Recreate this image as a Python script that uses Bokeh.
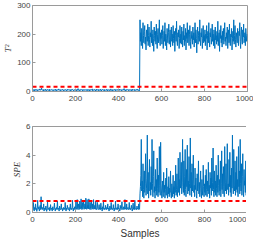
from bokeh.plotting import figure
from bokeh.layouts import column
from bokeh.models import Range1d, FixedTicker
from bokeh.embed import file_html
from bokeh.resources import INLINE

# ---- data (every 2nd sample) ----
t2_pre = [5,7,4,6,1,5,8,4,6,5,7,2,5,6,4,7,5,9,4,6,5,12,6,4,5,
          7,1,5,6,4,8,5,2,6,5,7,4,6,5,1,8,5,4,6,7,4,5,6,2,5,
          7,4,6,5,8,1,5,6,4,7,5,9,4,6,5,2,7,5,4,6,8,5,1,6,5,
          4,7,5,6,2,5,8,4,6,5,7,4,5,6,1,7,5,4,8,6,5,2,6,5,7,
          4,5,6,1,7,5,10,4,6,5,2,7,5,4,6,8,5,1,6,5,7,4,5,6,4,
          7,5,2,6,8,4,5,6,1,7,5,4,6,5,9,2,5,6,4,7,5,6,1,5,8,
          4,6,5,7,2,5,6,4,8,5,1,6,5,7,4,5,6,2,7,5,4,6,5,8,1,
          5,6,4,7,5,2,6,9,4,5,6,1,7,5,4,6,5,8,2,5,6,4,7,5,6,
          1,5,8,4,6,5,7,2,5,6,4,7,5,10,4,6,5,1,7,5,4,6,8,5,2,
          6,5,7,4,5,6,1,8,5,4,6,5,7,2,5,6,4,7,5,8,4,6,5,1,6]
t2_post = [250,175,205,160,220,185,150,240,195,170,210,230,165,190,145,215,200,175,235,160,195,225,180,155,205,
           190,245,170,200,160,215,185,140,225,195,175,210,165,235,180,150,200,220,170,190,250,175,160,205,185,
           215,165,195,230,150,180,210,175,240,160,200,185,145,220,190,170,205,235,165,180,215,155,195,225,175,
           200,160,230,185,170,210,140,195,220,175,245,180,160,205,190,215,150,185,230,170,200,165,225,190,155,
           210,180,235,160,195,175,220,145,205,185,240,170,190,215,160,200,230,175,150,210,185,195,165,225,180,
           205,155,190,240,170,215,185,135,200,225,165,195,210,175,250,180,160,205,190,220,150,185,230,170,195,
           175,215,160,200,185,230,145,195,210,170,240,180,155,205,190,220,165,185,235,175,200,160,215,190,150,
           225,180,195,165,210,175,245,160,190,205,140,215,185,230,170,195,155,210,180,220,165,200,240,175,190,
           160,205,185,225,150,195,215,170,235,180,160,200,190,220,145,185,210,175,250,165,195,230,180,155,205,
           190,170,220,185,160,210,195,240,175,150,200,225,180,165,215,190,235,170,185,205,160,220,195,175,200]
t2_limit = 17

spe_pre = [0.3,0.2,0.7,0.25,0.1,0.35,0.22,0.6,0.2,0.28,0.08,0.3,0.85,0.22,0.25,0.4,0.1,0.3,0.5,0.2,1.1,0.28,0.22,0.35,0.2,
           0.25,0.6,0.1,0.3,0.22,0.2,0.45,0.25,0.08,0.3,0.75,0.2,0.28,0.22,0.35,0.1,0.25,0.55,0.2,0.3,0.22,0.1,0.4,0.25,0.2,
           0.3,0.65,0.22,0.1,0.28,0.2,0.35,0.25,0.8,0.2,0.3,0.22,0.1,0.45,0.25,0.2,0.3,0.6,0.22,0.28,0.1,0.25,0.35,0.2,0.3,
           0.22,0.7,0.25,0.1,0.3,0.2,0.5,0.28,0.22,0.2,0.35,0.1,0.25,0.6,0.22,0.3,0.2,0.28,0.85,0.25,0.1,0.3,0.22,0.4,0.2,
           0.28,0.75,0.22,0.3,0.9,0.25,0.2,0.6,0.3,0.22,0.8,0.28,0.25,0.95,0.3,0.2,0.7,0.25,0.35,0.85,0.22,0.3,0.6,0.25,1.0,
           0.3,0.22,0.9,0.28,0.5,0.25,0.95,0.3,0.22,0.7,0.28,0.2,0.85,0.3,0.25,0.6,0.22,0.9,0.3,0.25,0.5,0.22,0.8,0.28,0.2,
           0.35,0.7,0.25,0.2,0.3,0.55,0.22,0.28,0.2,0.65,0.25,0.3,0.1,0.4,0.22,0.8,0.25,0.2,0.3,0.22,0.5,0.28,0.2,0.35,0.25,
           0.6,0.22,0.3,0.1,0.25,0.45,0.2,0.28,0.7,0.22,0.3,0.2,0.25,0.55,0.22,0.1,0.3,0.25,0.8,0.2,0.28,0.22,0.35,0.2,0.6,
           0.25,0.3,0.22,0.1,0.5,0.28,0.2,0.3,0.75,0.22,0.25,0.2,0.4,0.28,0.22,0.9,0.25,0.3,0.2,0.6,0.22,0.28,0.35,0.2,0.25,
           0.7,0.22,0.3,0.2,0.28,0.5,0.25,0.1,0.3,0.65,0.22,0.25,0.2,0.85,0.3,0.22,0.28,0.2,0.45,0.25,0.3,0.2,0.6,0.28,0.22]
spe_post = [1.3,1.8,2.6,5.1,1.5,2.2,1.1,3.4,1.6,1.0,2.9,1.4,2.0,4.1,1.2,1.7,2.4,5.4,1.3,2.8,1.0,1.9,3.7,1.5,2.1,
            1.2,3.2,1.6,5.1,2.0,1.1,2.5,4.3,1.4,1.8,1.0,3.0,1.5,2.3,1.2,3.8,1.7,1.1,2.6,1.4,4.6,1.9,1.2,4.9,2.0,
            1.3,1.0,2.2,1.5,1.1,2.8,1.4,1.9,1.0,1.6,2.4,1.2,3.1,1.5,1.0,1.8,1.3,2.5,1.1,1.7,1.4,2.9,1.2,1.0,2.0,
            1.5,1.1,2.6,1.3,1.8,1.0,2.2,1.4,3.3,1.2,1.6,2.7,1.1,1.9,3.8,1.4,2.3,1.2,4.2,1.7,2.0,3.5,1.3,1.8,5.1,
            2.1,1.4,3.6,1.2,2.5,4.4,1.6,1.1,3.0,1.8,4.7,1.3,2.2,1.5,3.9,2.0,1.2,5.2,1.7,2.8,1.1,3.4,1.5,2.3,4.0,
            1.4,1.9,1.1,3.1,1.6,2.4,1.2,1.0,2.7,1.5,1.8,3.6,1.3,2.1,1.1,1.7,2.9,1.4,1.0,2.3,1.5,1.2,3.3,1.8,1.1,
            2.0,1.4,2.6,1.2,3.0,1.6,1.1,2.2,1.5,3.5,1.3,1.9,1.0,2.8,1.7,2.4,1.2,3.8,1.5,2.1,4.5,1.6,1.1,2.9,1.4,
            2.2,1.2,3.3,1.7,1.1,2.6,1.4,4.0,1.9,1.2,2.3,1.5,3.6,1.1,2.0,4.3,1.6,2.7,1.3,3.2,1.8,1.1,4.6,2.1,1.5,
            3.4,1.3,2.4,4.8,1.6,2.0,1.2,3.7,1.8,4.2,1.4,2.6,1.1,3.1,1.7,5.4,2.2,1.3,4.4,1.9,1.5,3.6,1.2,2.8,1.6,
            3.9,1.4,2.3,1.1,4.6,1.8,2.9,1.3,5.1,2.0,1.5,3.4,1.2,2.5,4.1,1.6,1.1,3.0,1.9,2.2,1.4,3.6,1.2,2.7,1.8]
spe_limit = 0.8

x_ticks = [0, 200, 400, 600, 800, 1000]
t2_ticks = [0, 100, 200, 300]
spe_ticks = [0, 2, 4, 6]

step = 2
t2_x = [step * i for i in range(len(t2_pre))] + [500 + step * i for i in range(len(t2_post))]
spe_x = [step * i for i in range(len(spe_pre))] + [500 + step * i for i in range(len(spe_post))]

BLUE = "#0072BD"
RED = "#FF0000"
AXC = "#9a9a9a"
TXT = "#444444"


def make_fig(ymax, yticks, ylabel, xlabel, top_border, bottom_border):
    p = figure(output_backend="svg", toolbar_location=None,
               frame_width=215, frame_height=86,
               min_border_left=25, min_border_right=6,
               min_border_top=top_border, min_border_bottom=bottom_border,
               x_range=Range1d(0, 1000), y_range=Range1d(0, ymax))
    p.background_fill_color = "white"
    p.border_fill_color = "white"
    p.outline_line_color = AXC
    p.outline_line_width = 1
    p.grid.visible = False
    for ax in (p.xaxis[0], p.yaxis[0]):
        ax.axis_line_color = AXC
        ax.major_tick_line_color = AXC
        ax.major_tick_in = 3
        ax.major_tick_out = 0
        ax.minor_tick_line_color = None
        ax.major_label_text_font = "Liberation Sans"
        ax.major_label_text_font_size = "8px"
        ax.major_label_text_color = TXT
    p.xaxis[0].ticker = FixedTicker(ticks=x_ticks)
    p.yaxis[0].ticker = FixedTicker(ticks=yticks)
    p.xaxis[0].major_label_standoff = 4
    p.yaxis[0].major_label_standoff = 2
    p.yaxis[0].axis_label = ylabel
    p.yaxis[0].axis_label_text_font = "Liberation Serif"
    p.yaxis[0].axis_label_text_font_style = "italic"
    p.yaxis[0].axis_label_text_font_size = "9px"
    p.yaxis[0].axis_label_text_color = "#333333"
    p.yaxis[0].axis_label_standoff = 1
    if xlabel:
        p.xaxis[0].axis_label = xlabel
        p.xaxis[0].axis_label_text_font = "Liberation Sans"
        p.xaxis[0].axis_label_text_font_style = "normal"
        p.xaxis[0].axis_label_text_font_size = "10px"
        p.xaxis[0].axis_label_text_color = "#333333"
        p.xaxis[0].axis_label_standoff = 3
    return p


p1 = make_fig(300, t2_ticks, "T²", None, 5, 14)
p1.line(t2_x, t2_pre + t2_post, line_color=BLUE, line_width=1)
p1.line([0, 1000], [t2_limit, t2_limit], line_color=RED, line_width=2, line_dash="4 3")

p2 = make_fig(6, spe_ticks, "SPE", "Samples", 21, 29)
p2.line(spe_x, spe_pre + spe_post, line_color=BLUE, line_width=1)
p2.line([0, 1000], [spe_limit, spe_limit], line_color=RED, line_width=2, line_dash="4 3")

layout = column(p1, p2, spacing=0)
open("out.html", "w").write(file_html(layout, INLINE))
